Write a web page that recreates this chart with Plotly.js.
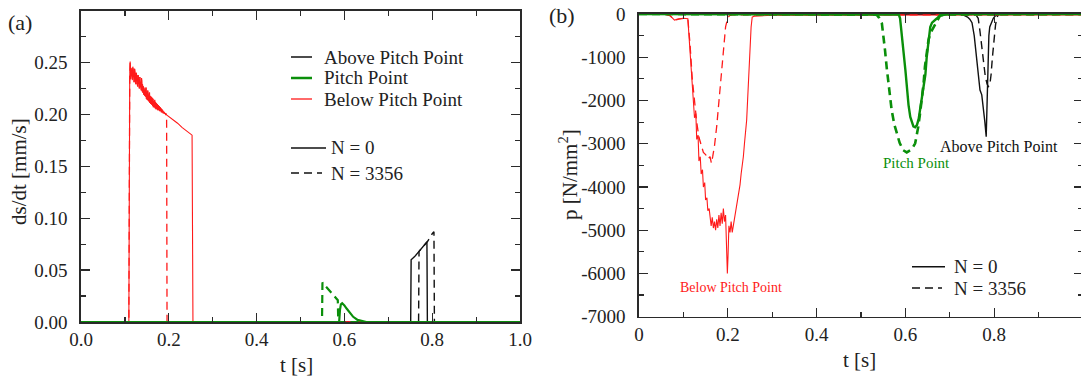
<!DOCTYPE html>
<html>
<head>
<meta charset="utf-8">
<script src="https://cdn.plot.ly/plotly-3.0.1.min.js"></script>
<style>
html,body{margin:0;padding:0;overflow:hidden;background:#fff;}
#chart{width:1100px;height:376px;}
</style>
</head>
<body>
<div id="chart"></div>
<script>
// ---------- Panel (a): ds/dt [mm/s] ----------
const tRedA = [0, 0.109, 0.111, 0.112, 0.113, 0.114, 0.115, 0.116, 0.117, 0.118, 0.119, 0.120, 0.121, 0.122, 0.123, 0.124, 0.125, 0.126, 0.127, 0.128, 0.129, 0.130, 0.131, 0.132, 0.133, 0.134, 0.135, 0.136, 0.137, 0.138, 0.139, 0.140, 0.141, 0.142, 0.143, 0.144, 0.145, 0.146, 0.147, 0.148, 0.149, 0.150, 0.151, 0.152, 0.153, 0.154, 0.155, 0.156, 0.157, 0.158, 0.159, 0.160, 0.161, 0.162, 0.163, 0.164, 0.165, 0.166, 0.167, 0.168, 0.169, 0.170, 0.171, 0.172, 0.173, 0.174, 0.175, 0.176, 0.177, 0.178, 0.179, 0.180, 0.181, 0.182, 0.183, 0.184, 0.185, 0.186, 0.187, 0.188, 0.189, 0.190, 0.191, 0.192, 0.193, 0.194, 0.195, 0.200, 0.210, 0.220, 0.230, 0.240, 0.250, 0.253, 0.255, 1.0];
const vRedA = [0, 0, 0.236, 0.251, 0.234, 0.245, 0.237, 0.243, 0.233, 0.246, 0.236, 0.241, 0.231, 0.244, 0.233, 0.238, 0.229, 0.240, 0.230, 0.236, 0.227, 0.238, 0.228, 0.233, 0.225, 0.236, 0.226, 0.231, 0.223, 0.235, 0.222, 0.229, 0.221, 0.227, 0.219, 0.226, 0.218, 0.224, 0.217, 0.226, 0.215, 0.222, 0.214, 0.223, 0.213, 0.219, 0.212, 0.221, 0.211, 0.218, 0.210, 0.217, 0.209, 0.216, 0.208, 0.215, 0.207, 0.213, 0.207, 0.214, 0.206, 0.212, 0.205, 0.211, 0.205, 0.210, 0.204, 0.209, 0.204, 0.208, 0.203, 0.207, 0.203, 0.206, 0.202, 0.205, 0.202, 0.204, 0.201, 0.203, 0.201, 0.202, 0.2005, 0.2012, 0.200, 0.2002, 0.1995, 0.198, 0.195, 0.1915, 0.1875, 0.184, 0.181, 0.180, 0, 0];
const redDashEndA = 0.195;

const tGreenA = [0, 0.588, 0.590, 0.592, 0.595, 0.600, 0.605, 0.610, 0.615, 0.620, 0.630, 0.640, 0.650, 1.0];
const vGreenA = [0, 0, 0.012, 0.017, 0.018, 0.016, 0.013, 0.010, 0.007, 0.005, 0.002, 0.0008, 0, 0];
const tGreenDashA = [0, 0.549, 0.550, 0.560, 0.570, 0.580, 0.585, 0.586, 1.0];
const vGreenDashA = [0, 0, 0.038, 0.033, 0.028, 0.023, 0.021, 0, 0];

const tBlackA = [0, 0.751, 0.752, 0.760, 0.770, 0.780, 0.788, 0.789, 1.0];
const vBlackA = [0, 0, 0.060, 0.063, 0.068, 0.073, 0.077, 0, 0];
const tBlackDashA = [0, 0.769, 0.770, 0.780, 0.790, 0.800, 0.804, 0.805, 1.0];
const vBlackDashA = [0, 0, 0.068, 0.073, 0.078, 0.085, 0.087, 0, 0];

// ---------- Panel (b): p [N/mm^2] ----------
const tRedB = [0, 0.05, 0.06, 0.07, 0.08, 0.09, 0.10, 0.11, 0.115, 0.12, 0.125, 0.128, 0.13, 0.133, 0.135, 0.138, 0.14, 0.143, 0.145, 0.148, 0.15, 0.153, 0.155, 0.158, 0.16, 0.1625, 0.165, 0.1675, 0.17, 0.1725, 0.175, 0.1775, 0.18, 0.1825, 0.185, 0.1875, 0.19, 0.1925, 0.195, 0.1975, 0.199, 0.2005, 0.2025, 0.205, 0.2075, 0.21, 0.2125, 0.215, 0.2175, 0.22, 0.2225, 0.225, 0.2275, 0.23, 0.2325, 0.235, 0.2375, 0.24, 0.2425, 0.245, 0.2475, 0.25, 0.2525, 0.255, 0.26, 0.30, 0.50, 1.0];
const vRedB = [0, 0, -10, -40, -140, -110, -100, -110, -900, -1800, -2400, -2300, -2900, -2800, -3400, -3300, -3700, -3600, -4000, -3900, -4300, -4250, -4550, -4500, -4750, -4900, -4700, -4950, -4800, -5000, -4750, -4950, -4650, -4900, -4600, -4850, -4500, -4800, -4650, -5300, -6000, -5600, -4900, -5050, -4800, -5050, -4900, -4650, -4500, -4350, -4200, -4050, -3950, -3700, -3550, -3300, -3000, -2750, -2450, -1900, -1300, -750, -300, -70, -50, -30, -25, -20];
const tRedDashB = [0, 0.05, 0.06, 0.07, 0.08, 0.09, 0.10, 0.11, 0.115, 0.12, 0.125, 0.13, 0.135, 0.14, 0.145, 0.15, 0.155, 0.16, 0.163, 0.166, 0.17, 0.175, 0.18, 0.185, 0.19, 0.195, 0.20, 0.205, 0.21, 1.0];
const vRedDashB = [0, 0, -10, -40, -140, -120, -100, -110, -700, -1500, -2100, -2500, -2850, -3050, -3200, -3250, -3350, -3300, -3450, -3300, -3050, -2600, -2000, -1400, -800, -300, -80, -30, -20, -20];

const tGreenB = [0, 0.5, 0.585, 0.588, 0.592, 0.596, 0.600, 0.603, 0.607, 0.611, 0.615, 0.618, 0.622, 0.626, 0.630, 0.633, 0.637, 0.641, 0.645, 0.648, 0.652, 0.656, 0.660, 0.665, 0.670, 0.678, 0.690, 0.700, 1.0];
const vGreenB = [0, 0, -10, -100, -450, -900, -1300, -1750, -2100, -2380, -2530, -2600, -2620, -2570, -2420, -2220, -2000, -1760, -1400, -1000, -600, -300, -200, -160, -110, -30, -10, 0, 0];
const tGreenDashB = [0, 0.5, 0.53, 0.536, 0.541, 0.547, 0.551, 0.554, 0.558, 0.562, 0.566, 0.569, 0.575, 0.581, 0.587, 0.595, 0.603, 0.611, 0.617, 0.622, 0.626, 0.629, 0.633, 0.637, 0.641, 0.644, 0.648, 0.652, 0.656, 0.660, 0.665, 0.670, 0.678, 0.690, 1.0];
const vGreenDashB = [0, 0, -10, -25, -90, -215, -500, -830, -1250, -1600, -1950, -2220, -2550, -2760, -2980, -3150, -3200, -3150, -3080, -2990, -2800, -2605, -2300, -1990, -1600, -1220, -880, -600, -450, -370, -280, -180, -40, -10, 0];

const tBlackB = [0, 0.70, 0.72, 0.73, 0.74, 0.745, 0.75, 0.755, 0.76, 0.765, 0.768, 0.772, 0.776, 0.779, 0.782, 0.784, 0.786, 0.788, 0.790, 0.794, 0.798, 0.802, 0.806, 0.810, 1.0];
const vBlackB = [0, 0, -5, -20, -70, -120, -200, -500, -1000, -1500, -1760, -1870, -2200, -2500, -2840, -2000, -1100, -500, -300, -180, -100, -50, -20, -5, 0];
const tBlackDashB = [0, 0.74, 0.755, 0.760, 0.764, 0.768, 0.772, 0.776, 0.780, 0.784, 0.787, 0.790, 0.793, 0.796, 0.800, 0.803, 0.806, 0.810, 1.0];
const vBlackDashB = [0, 0, -10, -40, -100, -400, -800, -1150, -1450, -1620, -1680, -1650, -1400, -1000, -550, -250, -80, -10, 0];

// tick labels
const xTicksA = [0, 0.2, 0.4, 0.6, 0.8, 1.0];
const xTicksB = [0, 0.2, 0.4, 0.6, 0.8];
const yTickValsB = [0, -1000, -2000, -3000, -4000, -5000, -6000, -7000];
const yTickTextB = ['0', '-1000', '-2000', '-3000', '-4000', '-5000', '-6000', '-7000'];
const seriesNames = ['Above Pitch Point', 'Pitch Point', 'Below Pitch Point'];
const cycleNames = ['N = 0', 'N = 3356'];

// ---------- styling ----------
const W = 1100, H = 376;
const RED = '#ff1a1a', GREEN = '#0a8f0a', BLACK = '#111111';
const FONT = 'Liberation Serif, Times New Roman, serif';
const AX = '#2a2a2a';
const px = v => v / W;
const py = v => 1 - v / H;
const DASH = '8px,5px';

// red dashed (a) follows the solid curve until its earlier end
const tRedDashA = tRedA.filter(t => t <= redDashEndA).concat([redDashEndA + 0.001, 1.0]);
const vRedDashA = vRedA.slice(0, tRedDashA.length - 2).concat([0, 0]);

function tr(x, y, color, width, dash, ax) {
  return {x: x, y: y, type: 'scatter', mode: 'lines', xaxis: ax === 2 ? 'x2' : 'x', yaxis: ax === 2 ? 'y2' : 'y',
    line: {color: color, width: width, dash: dash ? DASH : 'solid'}, showlegend: false, hoverinfo: 'skip'};
}

const data = [
  tr(tBlackA, vBlackA, BLACK, 1.4, false, 1),
  tr(tBlackDashA, vBlackDashA, BLACK, 1.4, true, 1),
  tr(tRedA, vRedA, RED, 1.1, false, 1),
  tr(tRedDashA, vRedDashA, RED, 1.3, true, 1),
  tr(tGreenA, vGreenA, GREEN, 2.2, false, 1),
  tr(tGreenDashA, vGreenDashA, GREEN, 2.2, true, 1),
  tr(tBlackB, vBlackB, BLACK, 1.4, false, 2),
  tr(tBlackDashB, vBlackDashB, BLACK, 1.4, true, 2),
  tr(tRedB, vRedB, RED, 1.1, false, 2),
  tr(tRedDashB, vRedDashB, RED, 1.3, true, 2),
  tr(tGreenB, vGreenB, GREEN, 2.4, false, 2),
  tr(tGreenDashB, vGreenDashB, GREEN, 2.6, true, 2)
];

const tickFont = {family: FONT, size: 19, color: '#222'};
function axisBase() {
  return {showline: true, linecolor: AX, linewidth: 1.6, mirror: 'ticks', ticks: 'inside', ticklen: 9, tickwidth: 1.3,
    tickcolor: AX, showgrid: false, zeroline: false, tickfont: tickFont, fixedrange: true};
}

const xaxis = Object.assign(axisBase(), {domain: [px(81), px(520)], range: [0, 1], tickmode: 'array', tickvals: xTicksA,
  tickformat: '.1f', minor: {ticks: 'inside', ticklen: 5, tickwidth: 1.2, tickcolor: AX, dtick: 0.1, tick0: 0}, anchor: 'y'});
const yaxis = Object.assign(axisBase(), {domain: [py(322), py(10.7)], range: [0, 0.2999], dtick: 0.05, tick0: 0,
  tickformat: '.2f', minor: {ticks: 'inside', ticklen: 5, tickwidth: 1.2, tickcolor: AX, dtick: 0.025, tick0: 0}, anchor: 'x', ticklabelstandoff: 8});
const xaxis2 = Object.assign(axisBase(), {domain: [px(639), px(1083)], range: [0, 1], tickmode: 'array', tickvals: xTicksB,
  minor: {ticks: 'inside', ticklen: 5, tickwidth: 1.2, tickcolor: AX, tickmode: 'linear', dtick: 0.1, tick0: 0}, anchor: 'y2'});
const yaxis2 = Object.assign(axisBase(), {domain: [py(316.7), py(14)], range: [-7000, 0], tickmode: 'array',
  tickvals: yTickValsB, ticktext: yTickTextB,
  minor: {ticks: 'inside', ticklen: 5, tickwidth: 1.2, tickcolor: AX, tickmode: 'linear', dtick: 500, tick0: 0}, anchor: 'x2', ticklabelstandoff: 8});

function txt(x, y, text, size, color, xanchor, extra) {
  return Object.assign({xref: 'paper', yref: 'paper', x: px(x), y: py(y), text: text, showarrow: false,
    xanchor: xanchor || 'center', yanchor: 'middle', font: {family: FONT, size: size, color: color || '#222'}}, extra || {});
}
function seg(x0, x1, y, color, width, dash) {
  return {type: 'line', xref: 'paper', yref: 'paper', x0: px(x0), x1: px(x1), y0: py(y), y1: py(y),
    line: {color: color, width: width, dash: dash ? DASH : 'solid'}};
}

const annotations = [
  txt(19.5, 22, '(a)', 22),
  txt(562, 16, '(b)', 22),
  txt(19, 172, 'ds/dt [mm/s]', 21, '#222', 'center', {textangle: -90}),
  txt(568, 175, 'p [N/mm<sup>2</sup>]', 21, '#222', 'center', {textangle: -90}),
  txt(296, 365, 't [s]', 21),
  txt(859, 360, 't [s]', 21),
  // legend (a)
  txt(322, 57, seriesNames[0], 19, '#222', 'left'),
  txt(322, 78, seriesNames[1], 19, '#222', 'left'),
  txt(322, 99, seriesNames[2], 19, '#222', 'left'),
  txt(329, 148, cycleNames[0], 19, '#222', 'left'),
  txt(329, 173, cycleNames[1], 19, '#222', 'left'),
  // legend (b)
  txt(952, 266.7, cycleNames[0], 19, '#222', 'left'),
  txt(952, 288, cycleNames[1], 19, '#222', 'left'),
  // labels (b)
  {xref: 'x2', yref: 'y2', x: 0.2073, y: -6329, text: seriesNames[2], showarrow: false, font: {family: FONT, size: 14, color: RED}},
  {xref: 'x2', yref: 'y2', x: 0.6253, y: -3457, text: seriesNames[1], showarrow: false, font: {family: FONT, size: 15, color: GREEN}},
  {xref: 'x2', yref: 'y2', x: 0.811, y: -3069, text: seriesNames[0], showarrow: false, font: {family: FONT, size: 16, color: BLACK}}
];

const shapes = [
  seg(291, 312, 57, BLACK, 1.5, false),
  seg(291, 312, 78, GREEN, 2.5, false),
  seg(291, 312, 99, RED, 1.3, false),
  seg(291, 326, 148, BLACK, 1.5, false),
  seg(291, 322, 173, BLACK, 1.5, true),
  seg(912, 945, 266.7, BLACK, 1.5, false),
  seg(912, 942, 288, BLACK, 1.5, true)
];

const layout = {
  width: W, height: H, margin: {l: 0, r: 0, t: 0, b: 0, pad: 0},
  paper_bgcolor: '#fff', plot_bgcolor: '#fff', showlegend: false,
  font: {family: FONT, color: '#222'},
  xaxis: xaxis, yaxis: yaxis, xaxis2: xaxis2, yaxis2: yaxis2,
  annotations: annotations, shapes: shapes
};

Plotly.newPlot('chart', data, layout, {displayModeBar: false, staticPlot: true});
</script>
</body>
</html>
